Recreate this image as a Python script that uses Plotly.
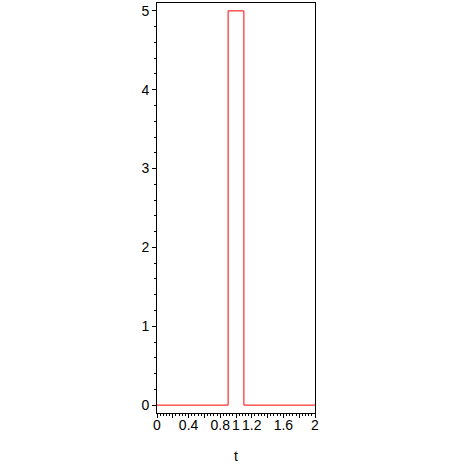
import plotly.graph_objects as go

t_vals = [0, 0.9, 1.1, 2]
y_vals = [0, 5, 0, 0]

x_tickvals = [0, 0.2, 0.4, 0.6, 0.8, 1.0, 1.2, 1.4, 1.6, 1.8, 2.0]
x_ticktext = ["0", "", "0.4", "", "0.8", "1", "1.2", "", "1.6", "", "2"]
y_tickvals = [0, 1, 2, 3, 4, 5]
y_ticktext = ["0", "1", "2", "3", "4", "5"]

fig = go.Figure()
fig.add_trace(go.Scatter(x=t_vals, y=y_vals, mode="lines", line_shape="hv",
                         line=dict(color="#ff0000", width=1), showlegend=False,
                         hoverinfo="skip"))

font = dict(family="Liberation Sans, Arial, sans-serif", size=14, color="black")
fig.update_layout(
    width=464, height=464,
    margin=dict(l=157, r=149, t=3, b=51, autoexpand=False),
    paper_bgcolor="white", plot_bgcolor="white",
    font=font,
    xaxis=dict(range=[0, 2], showgrid=False, zeroline=False, automargin=False,
               showline=True, mirror=True, linecolor="black", linewidth=1,
               tickvals=x_tickvals, ticktext=x_ticktext, tickangle=0,
               ticklabelstandoff=-5,
               ticks="outside", ticklen=4, tickcolor="black", tickwidth=1,
               minor=dict(dtick=0.04, tick0=0, ticks="outside", ticklen=2,
                          tickcolor="black", tickwidth=1, showgrid=False),
               title=dict(text="t", standoff=26, font=font)),
    yaxis=dict(range=[-0.1, 5.1], showgrid=False, zeroline=False, automargin=False,
               showline=True, mirror=True, linecolor="black", linewidth=1,
               tickvals=y_tickvals, ticktext=y_ticktext, tickangle=0,
               ticks="outside", ticklen=4, tickcolor="black", tickwidth=1,
               minor=dict(dtick=0.2, tick0=0, ticks="outside", ticklen=2,
                          tickcolor="black", tickwidth=1, showgrid=False)),
)
fig.write_html("out.html", config={"displayModeBar": False},
               post_script="document.body.style.margin='0px';")
